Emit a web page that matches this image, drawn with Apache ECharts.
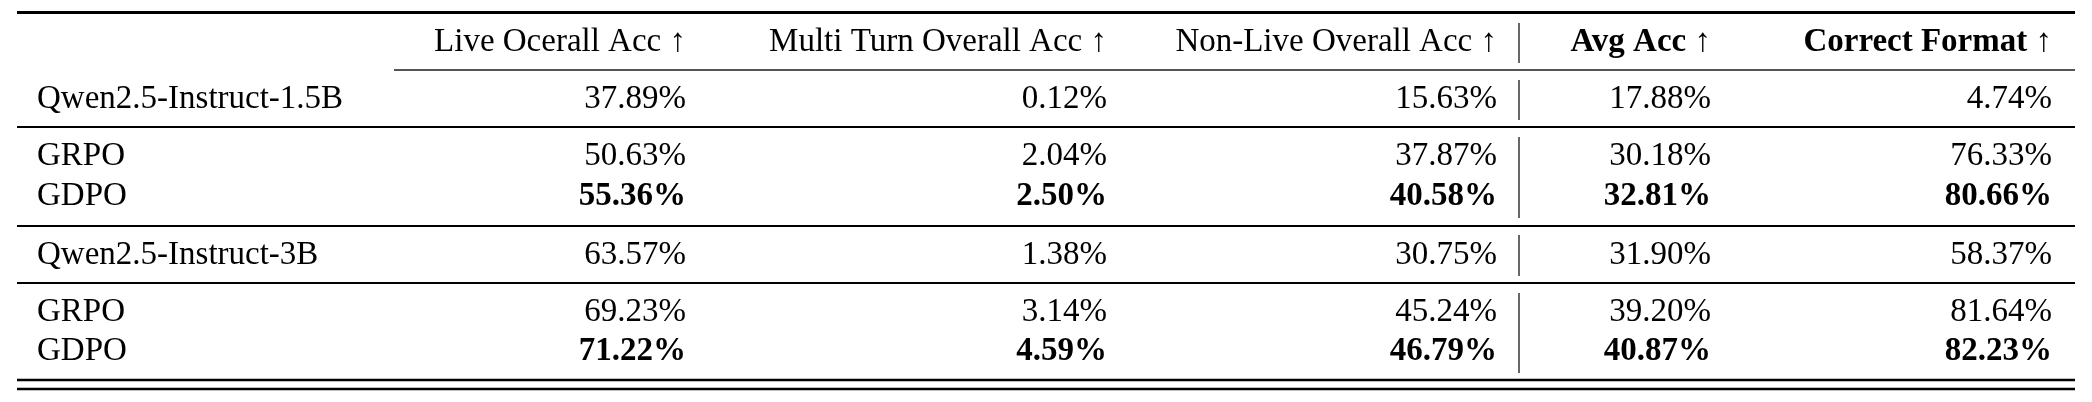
<!DOCTYPE html>
<html><head><meta charset="utf-8">
<script src="https://cdn.jsdelivr.net/npm/echarts@6/dist/echarts.min.js"></script>
<style>html,body{margin:0;padding:0;background:#fff}#c{width:2092px;height:402px}</style>
</head><body><div id="c"></div>
<script>
const headers = ['Live Ocerall Acc ↑','Multi Turn Overall Acc ↑','Non-Live Overall Acc ↑','Avg Acc ↑','Correct Format ↑'];
const headerBold = [false,false,false,true,true];
const models = ['Qwen2.5-Instruct-1.5B','GRPO','GDPO','Qwen2.5-Instruct-3B','GRPO','GDPO'];
const liveAcc = ['37.89%','50.63%','55.36%','63.57%','69.23%','71.22%'];
const multiTurnAcc = ['0.12%','2.04%','2.50%','1.38%','3.14%','4.59%'];
const nonLiveAcc = ['15.63%','37.87%','40.58%','30.75%','45.24%','46.79%'];
const avgAcc = ['17.88%','30.18%','32.81%','31.90%','39.20%','40.87%'];
const correctFormat = ['4.74%','76.33%','80.66%','58.37%','81.64%','82.23%'];
const boldRows = [false,false,true,false,false,true];

// layout
const colRight = [686,1107,1497,1711,2052];
const rowY = [99,156,196,255,312,351];
const headerY = 42;
const F = '"Liberation Serif","DejaVu Serif",serif';
const FS = 33;
const g = [];
function txt(x,y,s,align,bold){g.push({type:'text',x:x,y:y,style:{text:s,x:0,y:0,align:align,verticalAlign:'middle',font:(bold?'bold ':'')+FS+'px '+F,fill:'#000'}});}
function hline(x1,x2,y,w,c){g.push({type:'line',shape:{x1:x1,y1:y,x2:x2,y2:y},style:{stroke:c||'#000',lineWidth:w}});}
function vline(x,y1,y2){g.push({type:'line',shape:{x1:x,y1:y1,x2:x,y2:y2},style:{stroke:'#000',lineWidth:1.2}});}
headers.forEach((h,i)=>txt(colRight[i],headerY,h,'right',headerBold[i]));
const cols=[liveAcc,multiTurnAcc,nonLiveAcc,avgAcc,correctFormat];
models.forEach((m,r)=>{
  txt(37,rowY[r],m,'left',false);
  cols.forEach((c,i)=>txt(colRight[i],rowY[r],c[r],'right',boldRows[r]));
});
hline(17,2075,12.5,3);
hline(394,2075,70,2,'#555');
hline(17,2075,127,2);
hline(17,2075,226,2);
hline(17,2075,283,2);
hline(17,2075,380,2.5);
hline(17,2075,389,2.5);
const vx=1519;
vline(vx,23,63);vline(vx,80,120);vline(vx,137,218);vline(vx,235,276);vline(vx,293,373);
const chart=echarts.init(document.getElementById('c'));
chart.setOption({animation:false,graphic:{elements:g}});
</script></body></html>
